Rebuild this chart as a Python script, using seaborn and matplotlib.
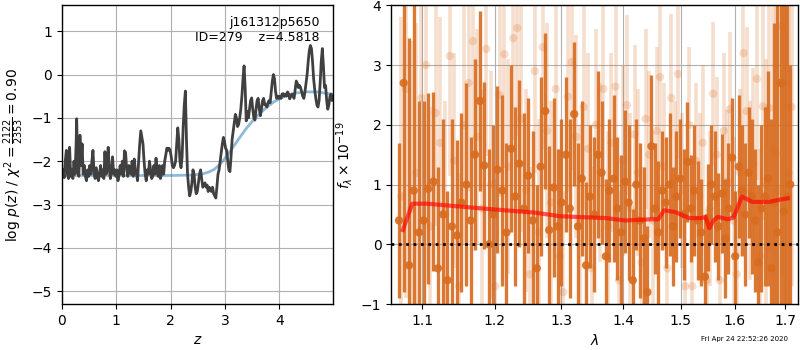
import matplotlib
matplotlib.use("Agg")
import matplotlib.pyplot as plt
import matplotlib.ticker as mticker
import numpy as np
import pandas as pd
import seaborn as sns

# ---------------- data: p(z) panel ----------------
pz_z = [0.00, 0.02, 0.04, 0.06, 0.08, 0.10, 0.12, 0.14, 0.16, 0.18, 0.20, 0.22, 0.24, 0.26, 0.27,
        0.29, 0.31, 0.33, 0.35, 0.37, 0.39, 0.41, 0.43, 0.45, 0.47, 0.49, 0.51, 0.53, 0.55, 0.57,
        0.59, 0.61, 0.63, 0.65, 0.67, 0.69, 0.71, 0.73, 0.75, 0.77, 0.79, 0.81, 0.83, 0.85, 0.87,
        0.89, 0.91, 0.93, 0.95, 0.97, 0.99, 1.01, 1.03, 1.05, 1.07, 1.09, 1.11, 1.13, 1.15, 1.17,
        1.19, 1.21, 1.23, 1.25, 1.27, 1.29, 1.31, 1.33, 1.35, 1.37, 1.39, 1.41, 1.43, 1.45, 1.47,
        1.49, 1.51, 1.53, 1.55, 1.57, 1.59, 1.61, 1.63, 1.65, 1.67, 1.69, 1.71, 1.73, 1.75, 1.77,
        1.79, 1.81, 1.83, 1.85, 1.87, 1.89, 1.91, 1.93, 1.95, 1.97, 1.99, 2.01, 2.03, 2.05, 2.07,
        2.09, 2.11, 2.13, 2.15, 2.17, 2.19, 2.21, 2.23, 2.25, 2.27, 2.29, 2.31, 2.33, 2.35, 2.37,
        2.39, 2.41, 2.43, 2.45, 2.47, 2.49, 2.51, 2.53, 2.55, 2.57, 2.59, 2.61, 2.63, 2.65, 2.67,
        2.69, 2.71, 2.73, 2.75, 2.77, 2.79, 2.81, 2.83, 2.85, 2.87, 2.89, 2.91, 2.93, 2.95, 2.97,
        2.99, 3.01, 3.03, 3.05, 3.07, 3.09, 3.11, 3.13, 3.15, 3.17, 3.19, 3.21, 3.23, 3.25, 3.27,
        3.29, 3.31, 3.33, 3.35, 3.37, 3.39, 3.41, 3.43, 3.45, 3.47, 3.49, 3.51, 3.53, 3.55, 3.57,
        3.59, 3.61, 3.63, 3.65, 3.67, 3.69, 3.71, 3.73, 3.75, 3.77, 3.79, 3.81, 3.83, 3.85, 3.87,
        3.89, 3.91, 3.93, 3.95, 3.97, 3.99, 4.01, 4.03, 4.05, 4.07, 4.09, 4.11, 4.13, 4.15, 4.17,
        4.19, 4.21, 4.23, 4.25, 4.27, 4.29, 4.31, 4.33, 4.35, 4.37, 4.39, 4.41, 4.43, 4.45, 4.47,
        4.49, 4.51, 4.53, 4.55, 4.57, 4.59, 4.61, 4.63, 4.65, 4.67, 4.69, 4.71, 4.73, 4.75, 4.77,
        4.79, 4.81, 4.83, 4.85, 4.87, 4.89, 4.91, 4.93, 4.95, 4.97, 4.99]
pz_logp = [-2.35, -2.20, -2.38, -2.00, -1.75, -2.30, -2.40, -1.68, -2.35, -2.20, -2.40, -2.00, -2.30, -1.60, -1.02,
           -2.20, -2.35, -1.40, -2.10, -1.60, -2.30, -2.10, -2.35, -2.45, -2.20, -2.35, -2.10, -2.30, -2.00, -1.75,
           -2.30, -2.40, -2.15, -2.30, -2.45, -2.30, -2.10, -2.35, -2.20, -2.40, -1.78, -2.30, -2.15, -1.68, -2.20,
           -2.40, -2.20, -1.90, -2.30, -2.20, -2.35, -2.20, -2.45, -2.30, -2.10, -2.30, -2.00, -2.35, -1.76, -1.80,
           -2.20, -2.35, -2.10, -2.15, -2.30, -2.00, -2.35, -1.95, -2.20, -2.30, -2.45, -2.00, -1.60, -1.30, -1.45,
           -1.60, -2.00, -2.30, -2.45, -2.20, -2.30, -2.00, -2.20, -2.40, -2.35, -2.10, -2.30, -1.93, -2.20, -2.35,
           -2.10, -2.40, -2.30, -2.10, -2.30, -2.00, -1.85, -1.70, -1.75, -1.70, -1.75, -1.90, -2.10, -2.15, -2.10,
           -2.00, -1.60, -1.23, -1.50, -2.00, -2.15, -1.90, -1.20, -0.70, -0.38, -1.50, -2.30, -2.60, -2.80, -2.70,
           -2.50, -2.20, -2.30, -2.60, -2.75, -2.70, -2.50, -2.30, -2.20, -2.40, -2.60, -2.55, -2.50, -2.60, -2.55,
           -2.70, -2.60, -2.65, -2.70, -2.60, -2.75, -2.80, -2.85, -2.60, -2.30, -2.20, -2.00, -1.80, -1.60, -1.45,
           -1.55, -1.70, -1.75, -2.00, -2.20, -2.24, -1.90, -1.50, -1.30, -1.10, -0.92, -1.00, -1.20, -1.15, -1.00,
           -0.80, -0.50, -0.10, 0.20, -0.30, -1.07, -0.85, -1.00, -0.80, -0.60, -0.54, -0.80, -1.00, -1.05, -0.80,
           -0.60, -0.55, -0.80, -0.95, -0.80, -0.60, -0.55, -0.70, -0.70, -0.75, -0.65, -0.60, -0.65, -0.40, -0.15,
           0.00, -0.10, -0.40, -0.55, -0.50, -0.55, -0.50, -0.55, -0.45, -0.44, -0.50, -0.45, -0.50, -0.40, -0.45,
           -0.56, -0.50, -0.45, -0.50, -0.55, -0.35, -0.15, -0.20, -0.30, -0.25, -0.30, -0.40, -0.50, -0.55, -0.40,
           -0.20, 0.00, 0.30, 0.55, 0.67, 0.60, 0.30, -0.10, -0.35, -0.55, -0.70, -0.75, -0.60, -0.20, 0.30,
           0.60, 0.20, -0.30, -0.25, -0.60, -0.80, -0.70, -0.50, -0.45, -0.60, -0.50]

prior_z = [0.0, 0.5, 1.0, 1.5, 2.0, 2.4, 2.6, 2.7, 2.8, 2.9, 3.0, 3.1, 3.2, 3.3, 3.4, 3.5, 3.6, 3.7,
           3.8, 3.9, 4.0, 4.1, 4.2, 4.3, 4.4, 4.5, 4.6, 4.7, 4.8, 4.9, 4.99]
prior_logp = [-2.33, -2.33, -2.33, -2.33, -2.33, -2.32, -2.29, -2.25, -2.19, -2.08, -1.93, -1.76, -1.58, -1.40,
              -1.23, -1.08, -0.95, -0.83, -0.72, -0.63, -0.56, -0.50, -0.46, -0.43, -0.41, -0.40, -0.40,
              -0.40, -0.42, -0.44, -0.46]

# ---------------- data: spectrum panel ----------------
dark_lam = [1.070, 1.076, 1.083, 1.089, 1.096, 1.102, 1.108, 1.115, 1.121, 1.128, 1.134, 1.140, 1.147,
            1.153, 1.160, 1.166, 1.172, 1.179, 1.185, 1.192, 1.198, 1.204, 1.211, 1.217, 1.224, 1.230,
            1.236, 1.243, 1.249, 1.256, 1.262, 1.268, 1.275, 1.281, 1.288, 1.294, 1.300, 1.307, 1.313,
            1.320, 1.326, 1.332, 1.339, 1.345, 1.352, 1.358, 1.364, 1.371, 1.377, 1.384, 1.390, 1.396,
            1.403, 1.409, 1.416, 1.422, 1.428, 1.435, 1.441, 1.448, 1.454, 1.460, 1.467, 1.473, 1.480,
            1.486, 1.492, 1.499, 1.505, 1.512, 1.518, 1.524, 1.531, 1.537, 1.544, 1.550, 1.556, 1.563,
            1.569, 1.576, 1.582, 1.588, 1.595, 1.601, 1.608, 1.614, 1.620, 1.627, 1.633, 1.640, 1.646,
            1.652, 1.659, 1.665, 1.672, 1.678, 1.684, 1.691, 1.697, 1.704, 1.710]
dark_flux = [0.40, 2.70, -0.35, 0.90, 0.20, 0.40, 0.93, 1.05, -0.40, 0.50, -0.60, 0.30, 0.15,
             0.70, 1.00, 0.40, 1.50, 2.40, 1.32, 0.00, 0.50, 1.25, 0.90, 0.20, 1.60, 0.80,
             1.35, 0.60, 1.15, 0.40, -0.40, 1.30, 2.23, 0.24, 0.95, 0.30, 0.70, 1.50, 0.60,
             2.18, 0.30, 1.10, -0.35, 0.80, 0.50, 1.50, 1.20, -0.20, 0.90, 1.10, 0.60, 0.20,
             1.05, 0.70, -0.60, 1.00, 0.40, 0.10, -0.80, 1.64, 0.60, 0.20, 0.90, 0.70, 1.00,
             0.30, 0.80, 1.10, 0.50, 1.38, 0.60, 0.90, 0.40, 0.20, -0.54, 0.45, 1.00, 0.80,
             0.30, 0.85, 0.10, 0.60, 1.45, -0.20, 1.30, 0.90, 0.50, 1.20, 0.80, 0.40, -0.30,
             0.60, 0.80, 1.10, -0.40, 0.70, 0.20, 2.70, 0.55, 0.80, 1.00]
dark_err = [1.30, 3.50, 3.80, 4.00, 2.20, 2.00, 1.60, 1.50, 1.70, 1.60, 1.50, 1.80, 1.60,
            1.50, 1.70, 1.40, 1.60, 1.50, 1.40, 1.60, 1.50, 1.40, 1.60, 1.50, 1.40, 1.50,
            1.40, 1.60, 1.30, 1.50, 1.40, 1.50, 1.30, 1.40, 1.50, 1.30, 1.40, 1.30, 1.50,
            1.20, 1.40, 1.30, 1.40, 1.20, 1.30, 1.40, 1.20, 1.30, 1.20, 1.40, 1.20, 1.30,
            1.20, 1.30, 1.20, 1.10, 1.30, 1.20, 1.10, 1.20, 1.10, 1.20, 1.00, 1.10, 1.20,
            1.00, 1.10, 1.00, 1.10, 1.00, 0.90, 1.10, 1.00, 0.90, 1.00, 0.90, 1.00, 1.10,
            0.90, 1.00, 1.00, 1.10, 1.00, 1.10, 1.20, 1.10, 1.20, 1.10, 1.30, 1.20, 1.30,
            1.40, 1.50, 1.80, 2.50, 3.00, 4.00, 4.50, 4.00, 3.50, 2.00]

light_lam = [1.073, 1.079, 1.086, 1.092, 1.099, 1.105, 1.111, 1.118, 1.124, 1.131, 1.137, 1.143, 1.150,
             1.156, 1.163, 1.169, 1.175, 1.182, 1.188, 1.195, 1.201, 1.207, 1.214, 1.220, 1.227, 1.233,
             1.239, 1.246, 1.252, 1.259, 1.265, 1.271, 1.278, 1.284, 1.291, 1.297, 1.303, 1.310, 1.316,
             1.323, 1.329, 1.335, 1.342, 1.348, 1.355, 1.361, 1.367, 1.374, 1.380, 1.387, 1.393, 1.399,
             1.406, 1.412, 1.419, 1.425, 1.431, 1.438, 1.444, 1.451, 1.457, 1.463, 1.470, 1.476, 1.483,
             1.489, 1.495, 1.502, 1.508, 1.515, 1.521, 1.527, 1.534, 1.540, 1.547, 1.553, 1.559, 1.566,
             1.572, 1.579, 1.585, 1.591, 1.598, 1.604, 1.611, 1.617, 1.623, 1.630, 1.636, 1.643, 1.649,
             1.655, 1.662, 1.668, 1.675, 1.681, 1.687, 1.694, 1.700, 1.707, 1.713]
light_flux = [0.80, 2.60, 0.60, 1.20, 2.45, 3.00, 0.30, 2.20, 1.70, 0.50, 3.15, 1.40, -0.70,
              2.00, 2.70, 3.40, 1.80, 0.60, 3.27, 1.00, -0.70, 2.50, 3.18, 1.30, 3.45, 3.62,
              2.10, 0.90, -0.50, 2.90, 0.20, 3.30, 1.90, 0.70, 2.60, -0.20, -0.80, 2.47, 3.05,
              1.80, 0.40, 2.30, 1.60, -0.40, 2.00, 1.20, 2.60, 0.30, 1.70, 2.64, -0.60, 1.40,
              2.33, 0.60, 1.84, 1.20, -0.30, 2.10, 1.50, 0.40, 1.90, 2.80, 1.30, -0.40, 2.45,
              1.10, 2.85, 0.90, -0.70, 2.00, -0.70, 1.40, 0.80, 1.70, -0.60, 0.60, 2.52, 1.50,
              -0.60, 1.90, 1.05, 2.26, 0.40, -0.50, 1.20, 3.20, 2.23, 0.90, 1.35, 2.77, -0.20,
              2.31, 1.00, 2.28, 1.60, 1.52, 0.90, 3.65, 2.70, 1.20, 2.30]
light_err = [3.00, 3.50, 2.80, 2.50, 2.20, 2.00, 2.00, 1.90, 2.10, 1.90, 2.00, 1.80, 1.90,
             2.00, 1.80, 1.90, 1.80, 2.00, 1.80, 1.90, 1.80, 1.70, 1.90, 1.80, 1.70, 1.80,
             1.90, 1.70, 1.80, 1.70, 1.90, 1.70, 1.80, 1.70, 1.60, 1.80, 1.70, 1.60, 1.80,
             1.70, 1.60, 1.70, 1.60, 1.70, 1.60, 1.50, 1.70, 1.60, 1.50, 1.60, 1.50, 1.60,
             1.50, 1.60, 1.50, 1.40, 1.60, 1.50, 1.40, 1.50, 1.40, 1.50, 1.40, 1.30, 1.40,
             1.30, 1.40, 1.30, 1.40, 1.30, 1.20, 1.30, 1.40, 1.30, 1.20, 1.30, 1.20, 1.30,
             1.20, 1.30, 1.20, 1.30, 1.40, 1.30, 1.40, 1.50, 1.40, 1.50, 1.60, 1.70, 1.80,
             1.90, 2.10, 2.40, 2.80, 3.20, 3.80, 4.20, 4.00, 3.50, 3.00]

model_lam = [1.075, 1.087, 1.107, 1.183, 1.260, 1.298, 1.370, 1.403, 1.449, 1.460, 1.470, 1.490,
             1.515, 1.537, 1.545, 1.552, 1.560, 1.568, 1.587, 1.598, 1.614, 1.634, 1.667, 1.690, 1.705]
model_flux = [0.24, 0.68, 0.68, 0.60, 0.53, 0.47, 0.44, 0.40, 0.42, 0.42, 0.57, 0.54,
              0.44, 0.44, 0.46, 0.27, 0.40, 0.46, 0.42, 0.45, 0.80, 0.71, 0.71, 0.75, 0.77]

title_lines = ["j161312p5650", "ID=279    z=4.5818"]
timestamp = "Fri Apr 24 22:52:26 2020"

# ---------------- figure ----------------
plt.rcParams['font.family'] = ['DejaVu Sans']
fig = plt.figure(figsize=(8, 3.5), dpi=100)
ax1 = fig.add_axes([0.0775, 0.131, 0.339, 0.854])
ax2 = fig.add_axes([0.489, 0.131, 0.509, 0.854])

ORANGE = '#d86b1e'

# left panel
pz_df = pd.DataFrame({'z': pz_z, 'logp': pz_logp})
prior_df = pd.DataFrame({'z': prior_z, 'logp': prior_logp})
sns.lineplot(data=prior_df, x='z', y='logp', ax=ax1, color='#1f77b4', alpha=0.5, lw=2, sort=False, zorder=3)
sns.lineplot(data=pz_df, x='z', y='logp', ax=ax1, color='0.25', lw=2, sort=False, zorder=4)
ax1.set_xlim(0, 4.99)
ax1.set_ylim(-5.3, 1.6)
ax1.set_yticks([-5, -4, -3, -2, -1, 0, 1])
ax1.set_xticks([0, 1, 2, 3, 4])
ax1.grid(True, color='#b0b0b0', lw=0.8)
ax1.set_axisbelow(True)
ax1.set_xlabel('$z$')
ax1.set_ylabel(r'log $p(z)$ / $\chi^2=\frac{2122}{2353}=0.90$')
ax1.text(0.95, 0.965, "\n".join(title_lines), transform=ax1.transAxes,
         ha='right', va='top', multialignment='right', fontsize=9)

# right panel
light_df = pd.DataFrame({'lam': light_lam, 'flux': light_flux, 'err': light_err})
dark_df = pd.DataFrame({'lam': dark_lam, 'flux': dark_flux, 'err': dark_err})
model_df = pd.DataFrame({'lam': model_lam, 'flux': model_flux})

ax2.errorbar(light_df['lam'], light_df['flux'], yerr=light_df['err'], fmt='none',
             ecolor=ORANGE, alpha=0.22, elinewidth=2.6, zorder=2)
sns.scatterplot(data=light_df, x='lam', y='flux', ax=ax2, color=ORANGE, alpha=0.22,
                s=36, edgecolor='none', zorder=2)
ax2.errorbar(dark_df['lam'], dark_df['flux'], yerr=dark_df['err'], fmt='none',
             ecolor=ORANGE, alpha=0.9, elinewidth=2.4, zorder=3)
sns.scatterplot(data=dark_df, x='lam', y='flux', ax=ax2, color=ORANGE, alpha=0.9,
                s=36, edgecolor='none', zorder=3)
sns.lineplot(data=model_df, x='lam', y='flux', ax=ax2, color='red', alpha=0.65, lw=3,
             sort=False, zorder=5)
ax2.axhline(0, color='k', ls=':', lw=2, zorder=6)

ax2.set_xscale('log')
ax2.set_xlim(1.06, 1.727)
ax2.set_ylim(-1, 4)
ax2.xaxis.set_major_locator(mticker.FixedLocator([1.1, 1.2, 1.3, 1.4, 1.5, 1.6, 1.7]))
ax2.xaxis.set_major_formatter(mticker.FixedFormatter(['1.1', '1.2', '1.3', '1.4', '1.5', '1.6', '1.7']))
ax2.xaxis.set_minor_locator(mticker.NullLocator())
ax2.set_yticks([-1, 0, 1, 2, 3, 4])
ax2.grid(True, color='#b0b0b0', lw=0.8)
ax2.set_axisbelow(True)
ax2.set_xlabel(r'$\lambda$')
ax2.set_ylabel(r'$f_\lambda\times10^{-19}$')

for ax in (ax1, ax2):
    for sp in ax.spines.values():
        sp.set_color('k')
        sp.set_linewidth(1.0)
        sp.set_zorder(10)

fig.text(0.985, 0.022, timestamp, ha='right', va='bottom', fontsize=5)

fig.savefig('out.png', dpi=100)
